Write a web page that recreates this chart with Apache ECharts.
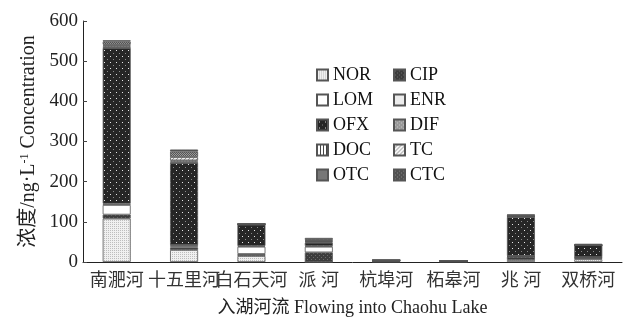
<!DOCTYPE html>
<html>
<head>
<meta charset="utf-8">
<script src="https://cdn.jsdelivr.net/npm/echarts@6/dist/echarts.min.js"></script>
<style>
html,body{margin:0;padding:0;background:#fff;}
#chart{width:630px;height:322px;}
</style>
</head>
<body>
<div id="chart"></div>
<script>
// Rivers flowing into Chaohu Lake
const rivers = ['南淝河', '十五里河', '白石天河', '派 河', '杭埠河', '柘皋河', '兆 河', '双桥河'];
const yTicks = [0, 100, 200, 300, 400, 500, 600];

// Antibiotic concentrations (ng/L), stacked per river
const NOR = [108, 30, 15, 0, 0.5, 0.5, 5, 7];
const CIP = [10, 6, 5, 24, 1.5, 1, 8, 3];
const LOM = [24, 3, 18, 14, 0.5, 0.5, 1, 1];
const ENR = [3, 3, 2, 2, 0.3, 0.3, 1, 1];
const OFX = [388, 205, 53, 8, 1.5, 1, 97, 30];
const DIF = [3, 3, 1, 2, 0, 0, 1, 0];
const DOC = [3, 3, 0, 2, 0, 0, 1, 0];
const TC  = [2, 8, 0, 1, 0, 0, 0, 0];
const OTC = [8, 14, 1, 2, 0, 0, 3, 1];
const CTC = [3, 5, 0, 5, 0.5, 0.3, 1, 2];

const seriesNames = ['NOR', 'CIP', 'LOM', 'ENR', 'OFX', 'DIF', 'DOC', 'TC', 'OTC', 'CTC'];
const seriesData = [NOR, CIP, LOM, ENR, OFX, DIF, DOC, TC, OTC, CTC];

// Small canvas tiles used as fill patterns
function tile(w, h, bg, draw) {
  const c = document.createElement('canvas');
  c.width = w; c.height = h;
  const g = c.getContext('2d');
  g.fillStyle = bg; g.fillRect(0, 0, w, h);
  if (draw) draw(g);
  return { image: c, repeat: 'repeat' };
}
function px(g, col, pts) {
  g.fillStyle = col;
  pts.forEach(p => g.fillRect(p[0], p[1], 1, 1));
}
const fills = {
  NOR: tile(2, 2, '#f0f0f0', g => px(g, '#bdbdbd', [[0, 0]])),
  CIP: tile(4, 4, '#3c3c3c', g => px(g, '#6a6a6a', [[1, 1], [3, 3]])),
  LOM: tile(4, 4, '#ffffff'),
  ENR: tile(4, 4, '#ececec'),
  OFX: tile(6, 6, '#262626', g => { px(g, '#e8e8e8', [[2, 2]]); px(g, '#8a8a8a', [[5, 5]]); }),
  DIF: tile(4, 4, '#9a9a9a', g => px(g, '#c8c8c8', [[1, 1], [3, 3]])),
  DOC: tile(3, 3, '#ffffff', g => { g.fillStyle = '#444'; g.fillRect(0, 0, 1, 3); }),
  TC:  tile(4, 4, '#f4f4f4', g => px(g, '#999', [[0, 3], [1, 2], [2, 1], [3, 0]])),
  OTC: tile(2, 2, '#9a9a9a', g => px(g, '#555', [[0, 0], [1, 1]])),
  CTC: tile(4, 4, '#505050', g => px(g, '#858585', [[1, 1], [3, 3]]))
};

const serif = '"Liberation Serif", "Noto Sans CJK SC", serif';

const series = seriesNames.map((name, i) => ({
  name: name,
  type: 'bar',
  stack: 'total',
  barWidth: 28,
  data: seriesData[i],
  itemStyle: { color: fills[name], borderColor: '#555', borderWidth: 0.8 },
  emphasis: { disabled: true }
}));

const legendCommon = {
  orient: 'vertical',
  itemWidth: 11,
  itemHeight: 11,
  itemGap: 7,
  icon: 'rect',
  textStyle: { fontFamily: serif, fontSize: 18, color: '#111' },
  selectedMode: false
};

const option = {
  animation: false,
  backgroundColor: '#fff',
  grid: { left: 83, right: 8, top: 21, bottom: 54, containLabel: false },
  legend: [
    Object.assign({}, legendCommon, { left: 311, top: 61, data: ['NOR', 'LOM', 'OFX', 'DOC', 'OTC'] }),
    Object.assign({}, legendCommon, { left: 388, top: 61, data: ['CIP', 'ENR', 'DIF', 'TC', 'CTC'] })
  ],
  xAxis: {
    type: 'category',
    data: rivers,
    name: '入湖河流 Flowing into Chaohu Lake',
    nameLocation: 'middle',
    nameGap: 37,
    nameTextStyle: { fontFamily: serif, fontSize: 18, color: '#222' },
    axisLine: { lineStyle: { color: '#222', width: 1 } },
    axisTick: { inside: true, length: 4, lineStyle: { color: '#444' } },
    axisLabel: { fontFamily: serif, fontSize: 18, color: '#333', margin: 10, interval: 0 }
  },
  yAxis: {
    type: 'value',
    min: 0,
    max: 600,
    interval: 100,
    name: '{m|浓度/ng·L}{s|-1}{m| Concentration}',
    nameLocation: 'middle',
    nameRotate: 90,
    nameGap: 44,
    nameTextStyle: {
      rich: {
        m: { fontFamily: serif, fontSize: 20, color: '#222' },
        s: { fontFamily: serif, fontSize: 12, color: '#222', verticalAlign: 'top', padding: [0, 0, 7, 0] }
      }
    },
    axisLine: { show: true, lineStyle: { color: '#222', width: 1 } },
    axisTick: { show: true, inside: true, length: 4, lineStyle: { color: '#444' } },
    axisLabel: {
      fontFamily: serif, fontSize: 19, color: '#222', margin: 5,
      formatter: v => (yTicks.indexOf(v) >= 0 ? String(v) : '')
    },
    splitLine: { show: false }
  },
  series: series
};

const chart = echarts.init(document.getElementById('chart'), null, { renderer: 'canvas' });
chart.setOption(option);
</script>
</body>
</html>
